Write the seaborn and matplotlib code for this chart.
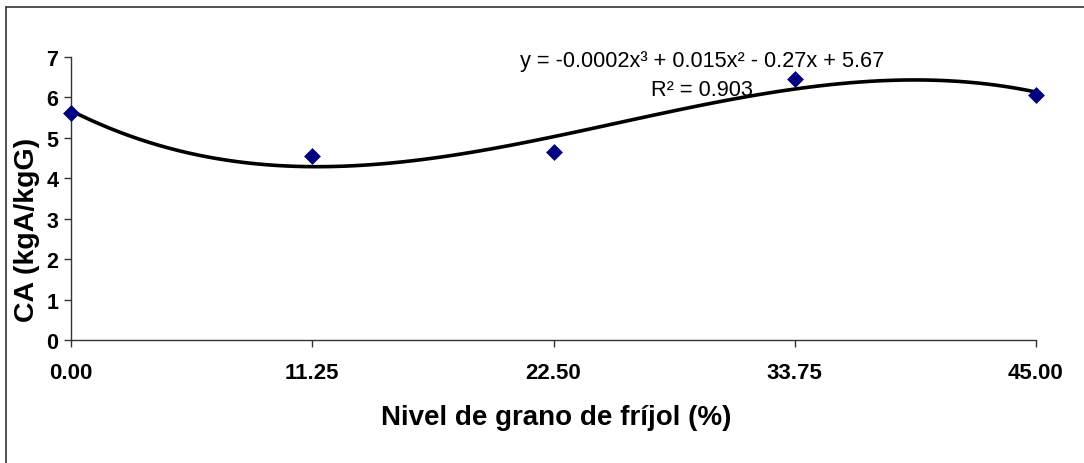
import numpy as np
import pandas as pd
import seaborn as sns
import matplotlib.pyplot as plt
from matplotlib.lines import Line2D

# data
nivel = [0.0, 11.25, 22.5, 33.75, 45.0]
ca = [5.61, 4.54, 4.65, 6.46, 6.07]
x_ticks = [0.0, 11.25, 22.5, 33.75, 45.0]
x_tick_labels = ["0.00", "11.25", "22.50", "33.75", "45.00"]
y_ticks = [0, 1, 2, 3, 4, 5, 6, 7]
eq_text = "y = -0.0002x³ + 0.015x² - 0.27x + 5.67"
r2_text = "R² = 0.903"

df = pd.DataFrame({"nivel": nivel, "ca": ca})

sns.set_style("ticks")
plt.rcParams["font.family"] = ["Liberation Sans", "DejaVu Sans"]
plt.rcParams["text.color"] = "black"
plt.rcParams["xtick.color"] = "black"
plt.rcParams["ytick.color"] = "black"

fig = plt.figure(figsize=(10.84, 4.64), dpi=100)
W, H = 1084, 464
ax = fig.add_axes([71 / W, 1 - 341 / H, (1036 - 71) / W, (341 - 58) / H])

# cubic trend line (same as the Excel polynomial trendline)
sns.regplot(data=df, x="nivel", y="ca", order=3, ci=None, scatter=False,
            line_kws={"color": "black", "lw": 2.6}, ax=ax)
sns.scatterplot(data=df, x="nivel", y="ca", marker="D", s=65, color="#000080",
                edgecolor="#000080", linewidth=0.5, ax=ax, clip_on=False, zorder=5)

ax.set_xlim(0, 45)
ax.set_ylim(0, 7)
ax.set_xticks(x_ticks)
ax.set_xticklabels(x_tick_labels)
ax.set_yticks(y_ticks)
ax.tick_params(axis="x", labelsize=16, length=5, width=1, color="#333333",
               labelcolor="black", pad=11)
ax.tick_params(axis="y", labelsize=15.5, length=5, width=1, color="#333333",
               labelcolor="black", pad=4)
for lab in ax.get_xticklabels() + ax.get_yticklabels():
    lab.set_fontweight("bold")
for s in ["top", "right"]:
    ax.spines[s].set_visible(False)
for s in ["left", "bottom"]:
    ax.spines[s].set_color("#333333")
    ax.spines[s].set_linewidth(1)

ax.set_xlabel("")
ax.set_ylabel("")
fig.text(556 / W, 1 - 418 / H, "Nivel de grano de fríjol (%)", ha="center", va="center",
         fontsize=20, fontweight="bold", color="black")
fig.text(27 / W, 1 - 230 / H, "CA (kgA/kgG)", ha="center", va="center", rotation=90,
         fontsize=20.5, fontweight="bold", color="black")

fig.text(702 / W, 1 - 62 / H, eq_text, ha="center", va="center", fontsize=15.7, color="black")
fig.text(702 / W, 1 - 90 / H, r2_text, ha="center", va="center", fontsize=15.7, color="black")

# chart frame (only top and left edges are visible in the crop)
fig.add_artist(Line2D([6 / W, 1], [1 - 8 / H, 1 - 8 / H], transform=fig.transFigure,
                      color="#333333", lw=1.2))
fig.add_artist(Line2D([6 / W, 6 / W], [0, 1 - 8 / H], transform=fig.transFigure,
                      color="#333333", lw=1.2))

fig.savefig("out.png", dpi=100)
